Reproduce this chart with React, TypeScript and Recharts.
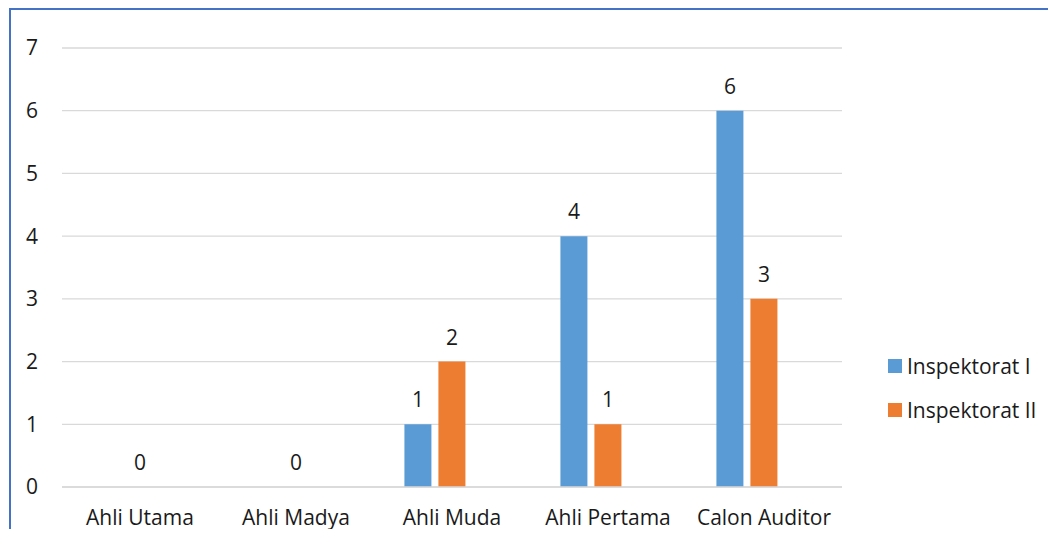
import { BarChart, Bar, XAxis, YAxis, CartesianGrid, LabelList } from "recharts"

const categories = ["Ahli Utama", "Ahli Madya", "Ahli Muda", "Ahli Pertama", "Calon Auditor"]
const inspektoratI: (number | null)[] = [null, null, 1, 4, 6]
const inspektoratII: (number | null)[] = [0, 0, 2, 1, 3]
// the source sheet has a third, empty series that still takes a slot in each group
const emptySeries: (number | null)[] = [null, null, null, null, null]
const yTicks = [0, 1, 2, 3, 4, 5, 6, 7]

const seriesNames = ["Inspektorat I", "Inspektorat II"]
const seriesColors = ["#5b9bd5", "#ed7d31"]

const FONT = "'Open Sans', sans-serif"
const TEXT = "#1a1a1a"
const FS = 21

const data = categories.map((c, i) => ({
  name: c,
  a: inspektoratI[i],
  b: inspektoratII[i],
  c: emptySeries[i],
}))

// zero-height bars get dropped along with their labels, so give them a hairline height
const keepZero = (v: any) => (v === 0 ? 0.01 : 0)

const renderValue = (props: any) => {
  const { x, y, width, value } = props
  if (value == null) return null
  return (
    <text
      x={Number(x) + Number(width) / 2}
      y={Number(y) - 17}
      textAnchor="middle"
      fill={TEXT}
      fontSize={FS}
      fontFamily={FONT}
    >
      {value}
    </text>
  )
}

export default function App() {
  return (
    <div
      style={{
        position: "relative",
        margin: -8,
        width: 1056,
        height: 537,
        overflow: "hidden",
        background: "#fff",
        fontFamily: FONT,
      }}
    >
      <div
        style={{
          position: "absolute",
          left: 9,
          top: 8,
          width: 1200,
          height: 700,
          borderLeft: "2px solid #4472c4",
          borderTop: "2px solid #4472c4",
        }}
      />
      <div style={{ position: "absolute", left: 0, top: 0 }}>
        <BarChart
          width={1056}
          height={537}
          data={data}
          margin={{ top: 48, right: 214, bottom: 20, left: 0 }}
          barCategoryGap="19.5%"
          barGap={7}
        >
          <CartesianGrid vertical={false} stroke="#d9d9d9" strokeWidth={1.3} />
          <XAxis
            dataKey="name"
            axisLine={{ stroke: "#d9d9d9", strokeWidth: 1.3 }}
            tickLine={false}
            tickMargin={17}
            interval={0}
            tick={{ fontSize: FS, fill: TEXT, fontFamily: FONT }}
          />
          <YAxis
            width={62}
            domain={[0, 7]}
            ticks={yTicks}
            axisLine={false}
            tickLine={false}
            tickMargin={18}
            tick={{ fontSize: FS, fill: TEXT, fontFamily: FONT }}
          />
          <Bar dataKey="a" name={seriesNames[0]} fill={seriesColors[0]} isAnimationActive={false}>
            <LabelList dataKey="a" content={renderValue} />
          </Bar>
          <Bar
            dataKey="b"
            name={seriesNames[1]}
            fill={seriesColors[1]}
            minPointSize={keepZero}
            isAnimationActive={false}
          >
            <LabelList dataKey="b" content={renderValue} />
          </Bar>
          <Bar dataKey="c" name="" fill="#a5a5a5" legendType="none" isAnimationActive={false} />
        </BarChart>
      </div>
      <div style={{ position: "absolute", left: 888, top: 352 }}>
        {seriesNames.map((n, i) => (
          <div
            key={n}
            style={{ display: "flex", alignItems: "center", height: 28, marginBottom: i === 0 ? 16 : 0 }}
          >
            <span style={{ width: 14, height: 14, background: seriesColors[i], marginRight: 5 }} />
            <span style={{ fontSize: FS, color: TEXT }}>{n}</span>
          </div>
        ))}
      </div>
    </div>
  )
}
